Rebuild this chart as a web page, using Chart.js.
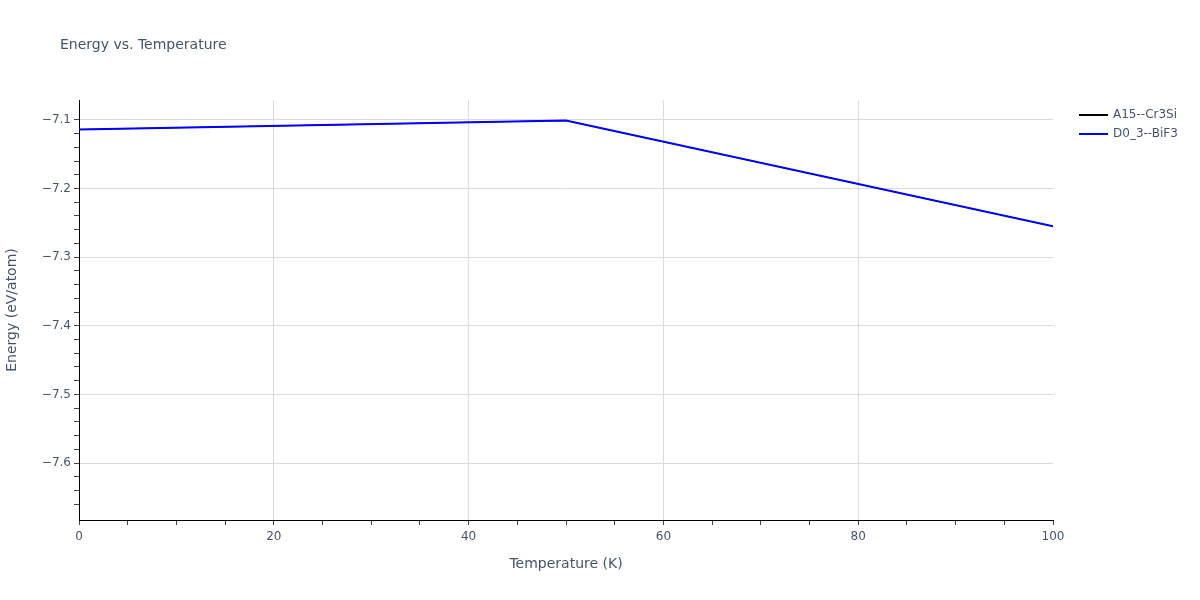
<!DOCTYPE html>
<html>
<head>
<meta charset="utf-8">
<script src="https://cdn.jsdelivr.net/npm/chart.js@4"></script>
<style>
  html, body { margin: 0; padding: 0; background: #fff; }
  #chart { display: block; }
</style>
</head>
<body>
<canvas id="chart" width="1200" height="600"></canvas>
<script>
// --- data ---
const temperatures = [0, 50, 100];
const energyA15 = [-7.114, -7.101, -7.255];   // hidden under the blue line
const energyD03 = [-7.114, -7.101, -7.255];
const seriesNames = ['A15--Cr3Si', 'D0_3--BiF3'];
const seriesColors = ['#000000', '#0000ff'];

const chartTitle = 'Energy vs. Temperature';
const xTitle = 'Temperature (K)';
const yTitle = 'Energy (eV/atom)';

const FONT = '"DejaVu Sans", Verdana, sans-serif';
const TEXT = '#44546f';
const GRID = '#dcdcdc';

const toPts = (ys) => temperatures.map((t, i) => ({ x: t, y: ys[i] }));
const near = (v, step) => Math.abs(v / step - Math.round(v / step)) < 1e-6;

// title + legend drawn straight on the canvas
const decorations = {
    id: 'decorations',
    afterDraw(chart) {
        const c = chart.ctx;
        c.save();
        c.fillStyle = TEXT;
        c.font = `14px ${FONT}`;
        c.textBaseline = 'middle';
        c.textAlign = 'left';
        c.fillText(chartTitle, 60, 45);

        c.font = `12px ${FONT}`;
        seriesNames.forEach((name, i) => {
            const y = 115 + i * 19;
            c.strokeStyle = seriesColors[i];
            c.lineWidth = 2;
            c.beginPath();
            c.moveTo(1079, y);
            c.lineTo(1108, y);
            c.stroke();
            c.fillStyle = TEXT;
            c.fillText(name, 1113, y);
        });
        c.restore();
    }
};

new Chart(document.getElementById('chart').getContext('2d'), {
    type: 'line',
    data: {
        datasets: [
            { label: seriesNames[0], data: toPts(energyA15), borderColor: seriesColors[0], borderWidth: 1, pointRadius: 0, order: 2 },
            { label: seriesNames[1], data: toPts(energyD03), borderColor: seriesColors[1], borderWidth: 2, pointRadius: 0, order: 1 }
        ]
    },
    options: {
        responsive: false,
        animation: false,
        devicePixelRatio: 1,
        layout: { padding: { top: 100, right: 147, left: 0, bottom: 23 } },
        plugins: { legend: { display: false }, title: { display: false }, tooltip: { enabled: false } },
        scales: {
            x: {
                type: 'linear', min: 0, max: 100,
                afterFit: (s) => { s.height = 57; },
                border: { color: '#000', width: 1 },
                grid: {
                    color: (ctx) => (ctx.tick && near(ctx.tick.value, 20) && ctx.tick.value > 0 && ctx.tick.value < 100) ? GRID : 'rgba(0,0,0,0)',
                    tickColor: '#444', tickLength: 5
                },
                ticks: {
                    stepSize: 5, autoSkip: false, maxRotation: 0,
                    color: TEXT, font: { family: FONT, size: 12 }, padding: 5,
                    callback: (v) => near(v, 20) ? String(v) : ''
                },
                title: { display: true, text: xTitle, color: TEXT, font: { family: FONT, size: 14 }, padding: { top: 14 } }
            },
            y: {
                type: 'linear', min: -7.683, max: -7.071,
                afterFit: (s) => { s.width = 79; },
                border: { color: '#000', width: 1 },
                grid: {
                    color: (ctx) => (ctx.tick && near(ctx.tick.value, 0.1)) ? GRID : 'rgba(0,0,0,0)',
                    tickColor: (ctx) => (ctx.tick && near(ctx.tick.value, 0.02)) ? '#444' : 'rgba(0,0,0,0)',
                    tickLength: 5
                },
                ticks: {
                    stepSize: 0.02, autoSkip: false,
                    color: TEXT, font: { family: FONT, size: 12 }, padding: 3,
                    callback: (v) => near(v, 0.1) ? '\u2212' + Math.abs(v).toFixed(1) : ''
                },
                title: { display: true, text: yTitle, color: TEXT, font: { family: FONT, size: 14 }, padding: { bottom: 2 } }
            }
        }
    },
    plugins: [decorations]
});
</script>
</body>
</html>
